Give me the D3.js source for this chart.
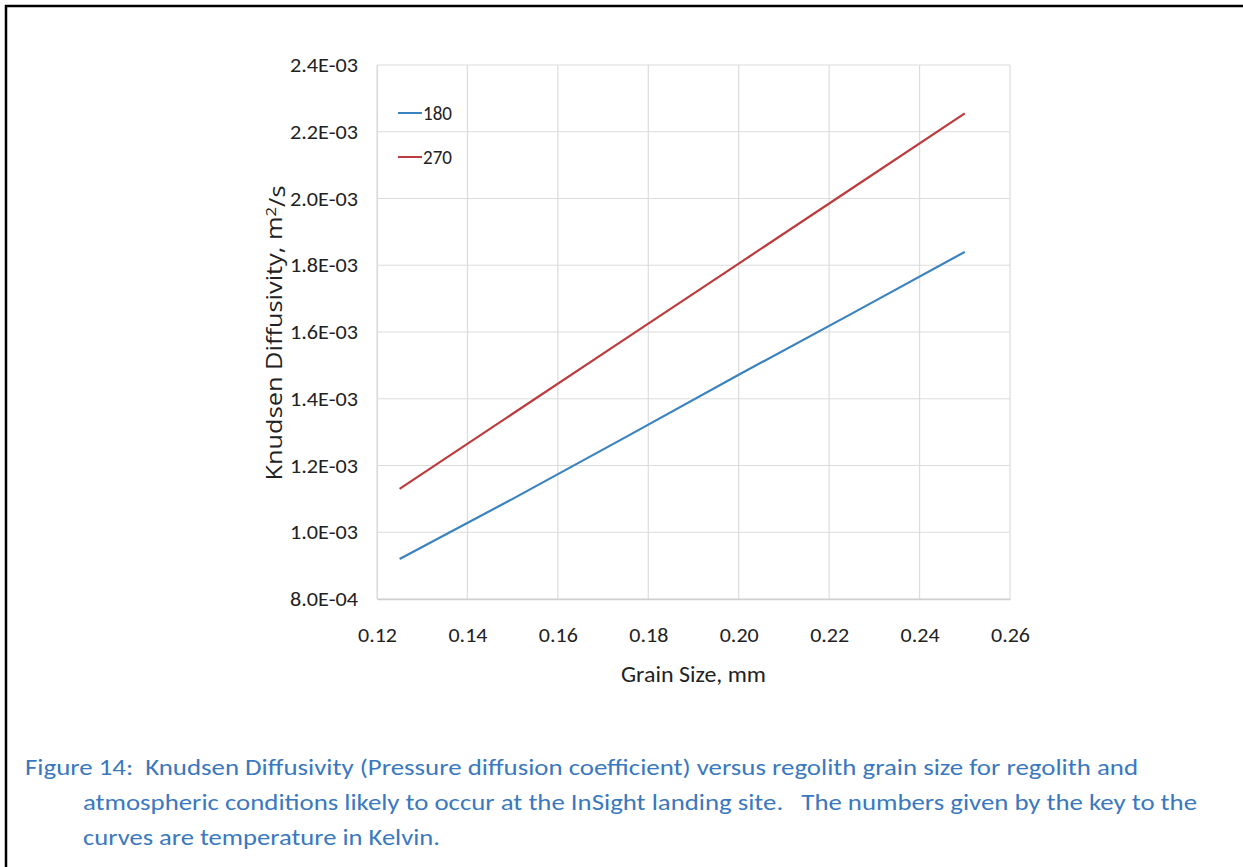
<!DOCTYPE html>
<html>
<head>
<meta charset="utf-8">
<script src="https://cdn.jsdelivr.net/npm/d3@7"></script>
<style>
  html, body { margin: 0; padding: 0; background: #fff; }
  svg { display: block; }
  text { white-space: pre; }
</style>
</head>
<body>
<svg id="chart" width="1243" height="867"></svg>
<script>
// Grain size (mm) at which diffusivity was evaluated
const grainSize = [0.125, 0.15, 0.175, 0.2, 0.225, 0.25];
// Knudsen diffusivity, m^2/s, for each temperature (K)
const diff180 = [9.2e-4, 1.10e-3, 1.285e-3, 1.472e-3, 1.655e-3, 1.84e-3];
const diff270 = [1.13e-3, 1.355e-3, 1.58e-3, 1.805e-3, 2.03e-3, 2.255e-3];
const seriesNames = ["180", "270"];
const seriesColors = ["#3a82c0", "#be3b3d"];

const xTicks = [0.12, 0.14, 0.16, 0.18, 0.20, 0.22, 0.24, 0.26];
const xTickLabels = ["0.12", "0.14", "0.16", "0.18", "0.20", "0.22", "0.24", "0.26"];
const yTicks = [8e-4, 1.0e-3, 1.2e-3, 1.4e-3, 1.6e-3, 1.8e-3, 2.0e-3, 2.2e-3, 2.4e-3];
const yTickLabels = ["8.0E-04", "1.0E-03", "1.2E-03", "1.4E-03", "1.6E-03", "1.8E-03", "2.0E-03", "2.2E-03", "2.4E-03"];

const captionLines = [
  "Figure 14:  Knudsen Diffusivity (Pressure diffusion coefficient) versus regolith grain size for regolith and",
  "atmospheric conditions likely to occur at the InSight landing site.   The numbers given by the key to the",
  "curves are temperature in Kelvin."
];

const FONT = 'Carlito, Lato, "Open Sans", sans-serif';
const svg = d3.select("#chart");

// page frame (only the top and left edges fall inside the view)
svg.append("rect")
  .attr("x", 6).attr("y", 6).attr("width", 1300).attr("height", 900)
  .attr("fill", "none").attr("stroke", "#000").attr("stroke-width", 2.5);

const plot = { left: 377, right: 1010, top: 65, bottom: 599 };
const x = d3.scaleLinear().domain([0.12, 0.26]).range([plot.left, plot.right]);
const y = d3.scaleLinear().domain([8e-4, 2.4e-3]).range([plot.bottom, plot.top]);

// gridlines
const g = svg.append("g");
g.append("g").selectAll("line").data(xTicks).join("line")
  .attr("x1", d => x(d)).attr("x2", d => x(d))
  .attr("y1", plot.top).attr("y2", plot.bottom)
  .attr("stroke", "#dcdcdc").attr("stroke-width", 1.2);
g.append("g").selectAll("line").data(yTicks).join("line")
  .attr("x1", plot.left).attr("x2", plot.right)
  .attr("y1", d => y(d)).attr("y2", d => y(d))
  .attr("stroke", "#dcdcdc").attr("stroke-width", 1.2);

// axes
const xAxis = d3.axisBottom(x).tickValues(xTicks)
  .tickFormat((d, i) => xTickLabels[i]).tickSize(0).tickPadding(28);
const yAxis = d3.axisLeft(y).tickValues(yTicks)
  .tickFormat((d, i) => yTickLabels[i]).tickSize(0).tickPadding(19);

const gx = svg.append("g").attr("transform", `translate(0,${plot.bottom})`).call(xAxis);
gx.select(".domain").attr("stroke", "#cfcfcf").attr("stroke-width", 1.4);
gx.selectAll(".tick text").attr("font-size", 21).attr("font-family", FONT).attr("fill", "#222")
  .attr("textLength", 39).attr("lengthAdjust", "spacingAndGlyphs");

const gy = svg.append("g").attr("transform", `translate(${plot.left},0)`).call(yAxis);
gy.select(".domain").attr("stroke", "#dcdcdc").attr("stroke-width", 1.2);
gy.selectAll(".tick text").attr("font-size", 21).attr("font-family", FONT).attr("fill", "#222")
  .attr("textLength", 68).attr("lengthAdjust", "spacingAndGlyphs");

// series lines
const line = d3.line().x((d, i) => x(grainSize[i])).y(d => y(d));
[diff180, diff270].forEach((vals, k) => {
  svg.append("path").datum(vals)
    .attr("d", line).attr("fill", "none")
    .attr("stroke", seriesColors[k]).attr("stroke-width", 2.2);
});

// legend
const legend = svg.append("g");
seriesNames.forEach((name, k) => {
  const ly = 113 + k * 44;
  legend.append("line").attr("x1", 398).attr("x2", 422).attr("y1", ly).attr("y2", ly)
    .attr("stroke", seriesColors[k]).attr("stroke-width", 2);
  legend.append("text").attr("x", 423).attr("y", ly).attr("dy", "0.35em")
    .attr("font-size", 20).attr("font-family", FONT).attr("fill", "#222")
    .attr("textLength", 29).attr("lengthAdjust", "spacingAndGlyphs").text(name);
});

// axis titles
svg.append("text").attr("x", (plot.left + plot.right) / 2).attr("y", 682)
  .attr("text-anchor", "middle").attr("font-size", 23).attr("font-family", FONT)
  .attr("fill", "#222").attr("textLength", 145).attr("lengthAdjust", "spacingAndGlyphs")
  .text("Grain Size, mm");

const yt = svg.append("text")
  .attr("transform", "translate(282,333) rotate(-90)")
  .attr("text-anchor", "middle").attr("font-size", 21)
  .attr("font-family", '"Open Sans", sans-serif').attr("fill", "#222")
  .attr("textLength", 295).attr("lengthAdjust", "spacingAndGlyphs");
yt.append("tspan").text("Knudsen Diffusivity, m");
yt.append("tspan").attr("dy", "-0.45em").attr("font-size", 14).text("2");
yt.append("tspan").attr("dy", "0.45em").text("/s");

// caption
const capX = [25, 83, 83];
const capY = [775, 810, 845];
const capW = [1113, 1114, 357];
captionLines.forEach((t, i) => {
  svg.append("text").attr("x", capX[i]).attr("y", capY[i])
    .attr("font-size", 22).attr("font-family", FONT).attr("fill", "#3a78c0")
    .attr("textLength", capW[i]).attr("lengthAdjust", "spacingAndGlyphs")
    .text(t);
});
</script>
</body>
</html>
